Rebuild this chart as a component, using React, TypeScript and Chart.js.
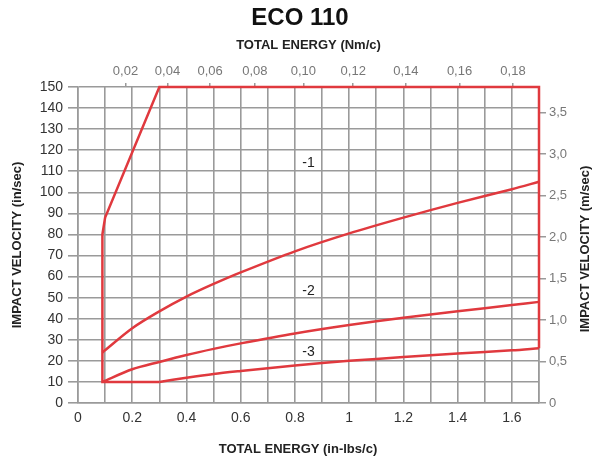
import React, { useEffect, useRef } from 'react';
import { Chart, registerables } from 'chart.js';

Chart.register(...registerables);

const RED = '#e0393e';
const GRID = '#9a9a9a';
const FONT = "'Liberation Sans', Arial, sans-serif";

// Energy (in-lbs/c) sample positions and impact velocities (in/sec)
const energyIn = [0.09, 0.2, 0.3, 0.4, 0.5, 0.6, 0.8, 1.0, 1.2, 1.4, 1.6, 1.7];
const curve1 = [24, 35.5, 43.5, 50.5, 56.5, 62, 72, 80.5, 88, 95, 101.5, 105];
const curve2 = [10, 16, 19.5, 22.8, 25.7, 28.3, 33, 37, 40.5, 43.5, 46.5, 48];
const curve3X = [0.3, 0.4, 0.5, 0.6, 0.8, 1.0, 1.2, 1.4, 1.6, 1.7];
const curve3 = [10, 12, 13.8, 15.2, 17.8, 20, 21.8, 23.5, 25, 26];
// operating envelope (straight segments)
const envelopeX = [0.3, 0.09, 0.09, 0.1, 0.3, 1.7, 1.7];
const envelopeY = [10, 10, 80, 88, 150, 150, 26];

const curveLabels = ['-1', '-2', '-3'];
const curveLabelX = [0.85, 0.85, 0.85];
const curveLabelY = [114, 53, 24];

// top axis (Nm/c): tick positions in in-lbs/c as printed on the original, and labels
const topTickPos = [0.175, 0.33, 0.487, 0.652, 0.831, 1.015, 1.209, 1.407, 1.604];
const topTickLabels = ['0,02', '0,04', '0,06', '0,08', '0,10', '0,12', '0,14', '0,16', '0,18'];

const xMax = 1.7;
const yMax = 150;
const rightMax = 3.81; // 150 in/sec in m/sec

const TITLE = 'ECO 110';
const TOP_TITLE = 'TOTAL ENERGY (Nm/c)';
const BOTTOM_TITLE = 'TOTAL ENERGY (in-lbs/c)';
const LEFT_TITLE = 'IMPACT VELOCITY (in/sec)';
const RIGHT_TITLE = 'IMPACT VELOCITY (m/sec)';

const pts = (xs: number[], ys: number[]) => xs.map((x, i) => ({ x, y: ys[i] }));

const decorPlugin = {
  id: 'decor',
  afterDraw(chart: any) {
    const { ctx, scales } = chart;
    ctx.save();
    // main title
    ctx.fillStyle = '#111';
    ctx.font = `bold 24px ${FONT}`;
    ctx.textAlign = 'center';
    ctx.textBaseline = 'middle';
    ctx.fillText(TITLE, 300, 18);
    // bottom axis title
    ctx.font = `bold 13px ${FONT}`;
    ctx.fillStyle = '#222';
    ctx.fillText(BOTTOM_TITLE, 298, 449);
    // curve labels
    ctx.font = `14px ${FONT}`;
    ctx.fillStyle = '#222';
    curveLabels.forEach((t, i) => {
      ctx.fillText(t, scales.x.getPixelForValue(curveLabelX[i]), scales.y.getPixelForValue(curveLabelY[i]));
    });
    // right axis title, reading bottom to top
    const ca = chart.chartArea;
    ctx.translate(585, (ca.top + ca.bottom) / 2 + 4);
    ctx.rotate(-Math.PI / 2);
    ctx.font = `bold 13px ${FONT}`;
    ctx.fillStyle = '#222';
    ctx.fillText(RIGHT_TITLE, 0, 0);
    ctx.restore();
  },
};

export default function App() {
  const ref = useRef<HTMLCanvasElement>(null);
  useEffect(() => {
    if (!ref.current) return;
    const lineDs = (label: string, data: any[], smooth: boolean) => ({
      label,
      data,
      showLine: true,
      borderColor: RED,
      backgroundColor: RED,
      borderWidth: 2.5,
      pointRadius: 0,
      tension: smooth ? 0.3 : 0,
      clip: 6,
    });
    const chart = new Chart(ref.current, {
      type: 'scatter',
      data: {
        datasets: [
          lineDs('envelope', pts(envelopeX, envelopeY), false),
          lineDs('-1', pts(energyIn, curve1), true),
          lineDs('-2', pts(energyIn, curve2), true),
          lineDs('-3', pts(curve3X, curve3), true),
        ] as any,
      },
      options: {
        responsive: false,
        animation: false,
        layout: { padding: 0 },
        plugins: { legend: { display: false }, tooltip: { enabled: false }, title: { display: false } },
        scales: {
          x: {
            type: 'linear',
            position: 'bottom',
            min: 0,
            max: xMax,
            afterFit: (s: any) => { s.height = 59; },
            ticks: {
              stepSize: 0.1,
              autoSkip: false,
              maxRotation: 0,
              padding: 7,
              color: '#333',
              font: { family: FONT, size: 14 },
              callback: (v: any) => {
                const n = Math.round(Number(v) * 10);
                return n % 2 ? '' : String(n / 10);
              },
            },
            grid: { color: GRID, lineWidth: 1.6, drawTicks: false },
            border: { color: GRID, width: 1.6 },
          },
          xTop: {
            type: 'linear',
            position: 'top',
            min: 0,
            max: xMax,
            afterFit: (s: any) => { s.height = 87; },
            afterBuildTicks: (s: any) => { s.ticks = topTickPos.map((v) => ({ value: v })); },
            ticks: {
              autoSkip: false,
              maxRotation: 0,
              padding: 4,
              color: '#777',
              font: { family: FONT, size: 13 },
              callback: (_v: any, i: number) => topTickLabels[i],
            },
            grid: { drawOnChartArea: false, drawTicks: true, tickLength: 4, color: GRID, lineWidth: 1.5 },
            border: { display: false },
            title: {
              display: true,
              text: TOP_TITLE,
              color: '#222',
              font: { family: FONT, size: 13, weight: 'bold' },
              padding: { top: 38, bottom: 0 },
            },
          },
          y: {
            type: 'linear',
            position: 'left',
            min: 0,
            max: yMax,
            afterFit: (s: any) => { s.width = 78; },
            ticks: {
              stepSize: 10,
              padding: 5,
              color: '#333',
              font: { family: FONT, size: 14 },
            },
            grid: { color: GRID, lineWidth: 1.6, tickLength: 10, tickColor: GRID },
            border: { color: GRID, width: 1.6 },
            title: {
              display: true,
              text: LEFT_TITLE,
              color: '#222',
              font: { family: FONT, size: 13, weight: 'bold' },
              padding: { top: 10, bottom: 0 },
            },
          },
          yRight: {
            type: 'linear',
            position: 'right',
            min: 0,
            max: rightMax,
            afterFit: (s: any) => { s.width = 53; },
            ticks: {
              stepSize: 0.5,
              includeBounds: false,
              padding: 3,
              color: '#777',
              font: { family: FONT, size: 13 },
              callback: (v: any) => (Number(v) === 0 ? '0' : Number(v).toFixed(1).replace('.', ',')),
            },
            grid: { drawOnChartArea: false, drawTicks: true, tickLength: 7, color: GRID, lineWidth: 1.5 },
            border: { color: GRID, width: 1.6 },
          },
        },
      } as any,
      plugins: [decorPlugin],
    });
    return () => chart.destroy();
  }, []);
  return (
    <canvas
      ref={ref}
      width={592}
      height={462}
      style={{ position: 'absolute', left: 0, top: 0, width: 592, height: 462, display: 'block', background: '#fff' }}
    />
  );
}
